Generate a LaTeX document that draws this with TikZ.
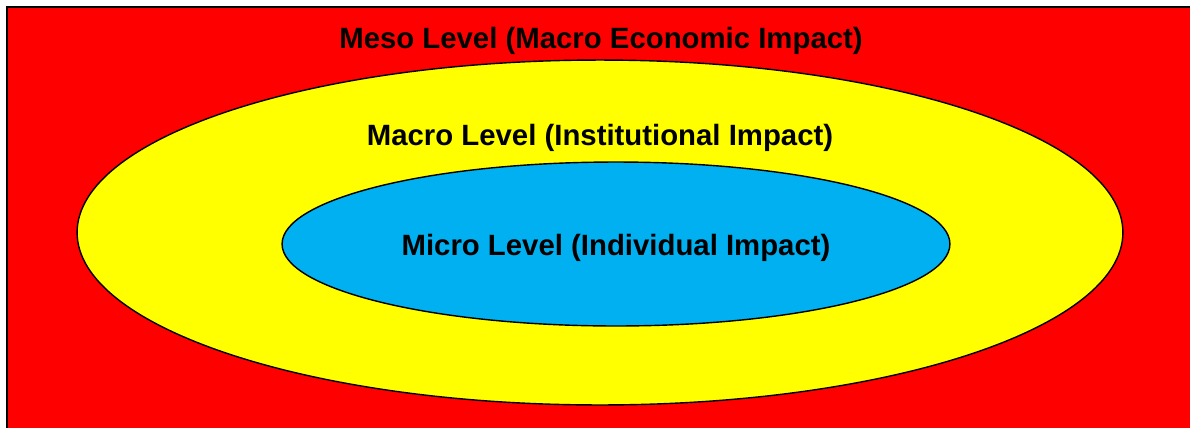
\documentclass[tikz,border=0pt]{standalone}
\usepackage{fontspec}
\setmainfont{Liberation Sans}
\usetikzlibrary{shapes.geometric}
\usetikzlibrary{positioning}

\definecolor{mesored}{RGB}{255,0,0}
\definecolor{macroyellow}{RGB}{255,255,0}
\definecolor{microblue}{RGB}{0,176,240}

\begin{document}
\begin{tikzpicture}[x=0.02cm, y=-0.02cm,
    level/.style={ellipse, draw=black, line width=0.8pt, inner sep=0pt},
    lbl/.style={font=\bfseries\fontsize{16.7}{20}\selectfont, inner sep=0pt}]
        \useasboundingbox (0,0) rectangle (1190,427);
        \clip (0,0) rectangle (1190,427);
        % outer frame
        \draw[gray!60, line width=2pt] (8,8) rectangle (1200,440);
        \filldraw[fill=mesored, draw=black, line width=1.1pt] (7,7) rectangle (1200,440);
        
        \node[level, fill=macroyellow, minimum width=20.92cm, minimum height=6.9cm] (macro) at (600,232.5) {};
        \node[level, fill=microblue, minimum width=13.36cm, minimum height=3.28cm] (micro) at (616,244) {};
        
        \node[lbl] (mesolbl) at (601,41) {Meso Level (Macro Economic Impact)};
        \node[lbl] (macrolbl) at (600,138) {Macro Level (Institutional Impact)};
        \node[lbl] (microlbl) at (616,248) {Micro Level (Individual Impact)};
\end{tikzpicture}
\end{document}
